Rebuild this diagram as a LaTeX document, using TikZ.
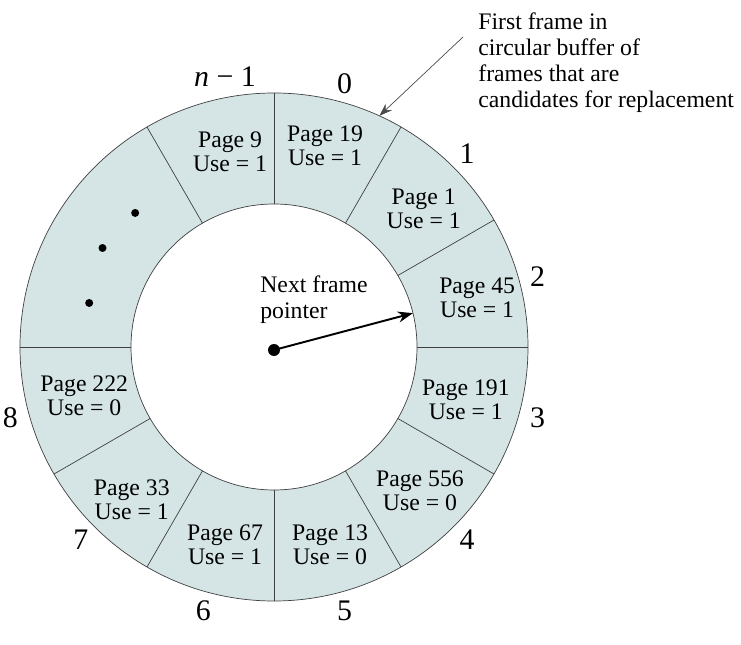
\documentclass[tikz,border=0pt]{standalone}
\usepackage{fontspec}
\setmainfont{Liberation Serif}
\usepackage{xcolor}
\definecolor{ringFill}{RGB}{213,229,229}
\colorlet{colorRing}{black!75}
\colorlet{colorNote}{black!70}
\usepackage{tikz}
\usetikzlibrary{arrows.meta, positioning}
\tikzset{
  frame/.style={align=center, inner sep=0pt, font=\fontsize{13.5}{13.7}\selectfont},
  slotnum/.style={inner sep=0pt, font=\fontsize{17}{17}\selectfont},
  note/.style={align=left, inner sep=0pt, font=\fontsize{13.5}{14.8}\selectfont},
  hub/.style={circle, fill=black, inner sep=0pt, minimum size=2.4mm},
  gapdot/.style={circle, fill=black, inner sep=0pt, minimum size=1.6mm},
}

\begin{document}
\begin{tikzpicture}[>=Stealth, line join=round]
\useasboundingbox (-5.48,-5.94) rectangle (9.34,6.94);
\def\rOut{5.08}
\def\rIn{2.86}
% ring of frames
\fill[ringFill, even odd rule] (0,0) circle (\rOut) (0,0) circle (\rIn);
\draw[colorRing, thin] (0,0) circle (\rOut) (0,0) circle (\rIn);
\foreach \a in {90,60,30,0,-30,-60,-90,-120,-150,180,120}
  \draw[colorRing, thin] (\a:\rIn) -- (\a:\rOut);
% frame contents
\foreach \a/\rr/\p/\u [count=\i] in {75.8/4.16/19/1, 42.8/4.08/1/1, 13.6/4.18/45/1,
    -15.4/3.98/191/1, -44.6/4.1/556/0, -74.2/4.12/13/0, -103.9/4.08/67/1,
    -132.9/4.18/33/1, -165.5/3.92/222/0, 102.7/4.0/9/1}
  \node[frame] (frame\i) at (\a:\rr) {Page \p\\Use = \u};
% slot numbers
\foreach \n in {0,...,8}
  \node[slotnum] (slot\n) at ({75-30*\n}:5.46) {\n};
\node[slotnum] (slotLast) at (100.3:5.49) {\textit{n} − 1};
% the gap
\node[gapdot] (dotA) at (136:3.86) {};
\node[gapdot] (dotB) at (150:3.96) {};
\node[gapdot] (dotC) at (166.6:3.8) {};
% pointer
\node[hub] (hub) at (0,-0.06) {};
\coordinate (ptrTip) at (13.7:\rIn);
\draw[->, line width=1.1pt, >={Stealth[length=3mm, width=2.2mm]}] (hub.center) -- (ptrTip);
\node[note, anchor=west] (ptrLabel) at (-0.28,0.94) {Next frame\\pointer};
% first frame note
\node[note, anchor=north west] (firstNote) at (4.08,6.7)
  {First frame in\\circular buffer of\\frames that are\\candidates for replacement};
\coordinate (noteTail) at (3.78,6.2);
\coordinate (noteTip) at (65.5:\rOut);
\draw[->, colorNote, thin, >={Stealth[length=2.6mm, width=1.8mm]}] (noteTail) -- (noteTip);
\end{tikzpicture}
\end{document}
